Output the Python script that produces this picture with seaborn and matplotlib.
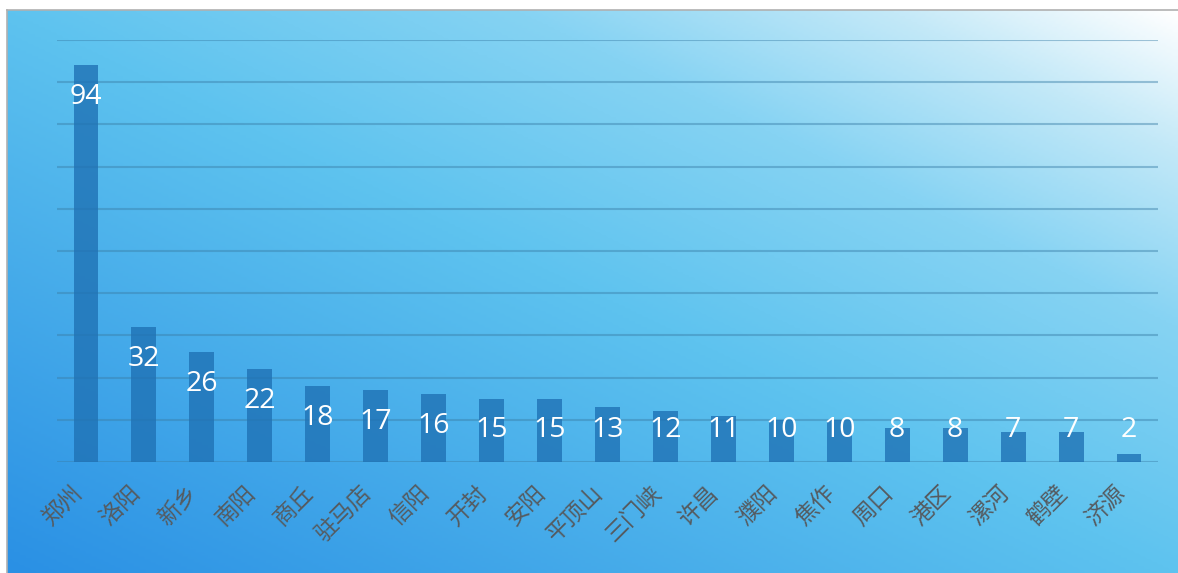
import numpy as np
import pandas as pd
import matplotlib
matplotlib.use("Agg")
import matplotlib.pyplot as plt
import matplotlib.transforms as mtransforms
from matplotlib.colors import LinearSegmentedColormap
import seaborn as sns

cities = ["郑州", "洛阳", "新乡", "南阳", "商丘", "驻马店", "信阳", "开封", "安阳",
          "平顶山", "三门峡", "许昌", "濮阳", "焦作", "周口", "港区", "漯河", "鹤壁", "济源"]
counts = [94, 32, 26, 22, 18, 17, 16, 15, 15, 13, 12, 11, 10, 10, 8, 8, 7, 7, 2]

sns.set_theme(style="white")
plt.rcParams["font.family"] = ["Noto Sans CJK SC", "DejaVu Sans"]

W, H = 1178, 573
fig = plt.figure(figsize=(W / 100, H / 100), dpi=100)
fig.patch.set_facecolor("white")

# diagonal gradient panel behind the plot
bg = fig.add_axes([7 / W, 0, 1 - 7 / W, 1 - 10 / H])
nx, ny = 400, 200
gx = np.linspace(0, 1, nx)[None, :]
gy = np.linspace(0, 1, ny)[:, None]
t = (gx + gy) / 2  # 0 at bottom-left, 1 at top-right
cmap = LinearSegmentedColormap.from_list(
    "panel",
    [(0.0, "#2a90e4"), (0.5, "#5ec3ef"), (0.72, "#86d3f3"),
     (0.88, "#c4e9f8"), (1.0, "#ffffff")])
bg.imshow(t, cmap=cmap, origin="lower", aspect="auto", extent=[0, 1, 0, 1],
          interpolation="bilinear")
bg.set_xticks([])
bg.set_yticks([])
for side in ["left", "top"]:
    bg.spines[side].set_color("#b0b0b0")
    bg.spines[side].set_linewidth(1.2)
for side in ["right", "bottom"]:
    bg.spines[side].set_visible(False)

# bar chart on top of the gradient
ax = fig.add_axes([57 / W, (H - 462) / H, (1158 - 57) / W, (462 - 40) / H])
ax.set_facecolor("none")
df = pd.DataFrame({"city": cities, "count": counts})
sns.barplot(data=df, x="city", y="count", ax=ax, color="#1f72b5", alpha=0.8,
            width=0.43, saturation=1, linewidth=0, edgecolor="none")
ax.set_ylim(0, 100)
ax.set_xlim(-0.5, len(cities) - 0.5)
ax.set_yticks(np.arange(0, 101, 10))
ax.yaxis.grid(True, color="#3a7fa8", alpha=0.45, linewidth=1.5)
ax.set_axisbelow(True)
ax.set_yticklabels([])
ax.tick_params(axis="both", length=0)
for s in ax.spines.values():
    s.set_visible(False)
ax.set_xlabel("")
ax.set_ylabel("")
ax.set_xticks(range(len(cities)))
ax.set_xticklabels(cities, rotation=45, ha="right", rotation_mode="anchor",
                   fontsize=16.5, color="#555b60")
ax.tick_params(axis="x", pad=14)
shift = mtransforms.ScaledTranslation(-16 / 100, 0, fig.dpi_scale_trans)
for lab in ax.get_xticklabels():
    lab.set_transform(lab.get_transform() + shift)

# value labels near the top of each bar
for i, v in enumerate(counts):
    ax.text(i, max(v - 7.5, 7.5), str(v), ha="center", va="center",
            color="white", fontsize=20.5, family=["Open Sans", "DejaVu Sans"])

fig.savefig("out.png", dpi=100)
